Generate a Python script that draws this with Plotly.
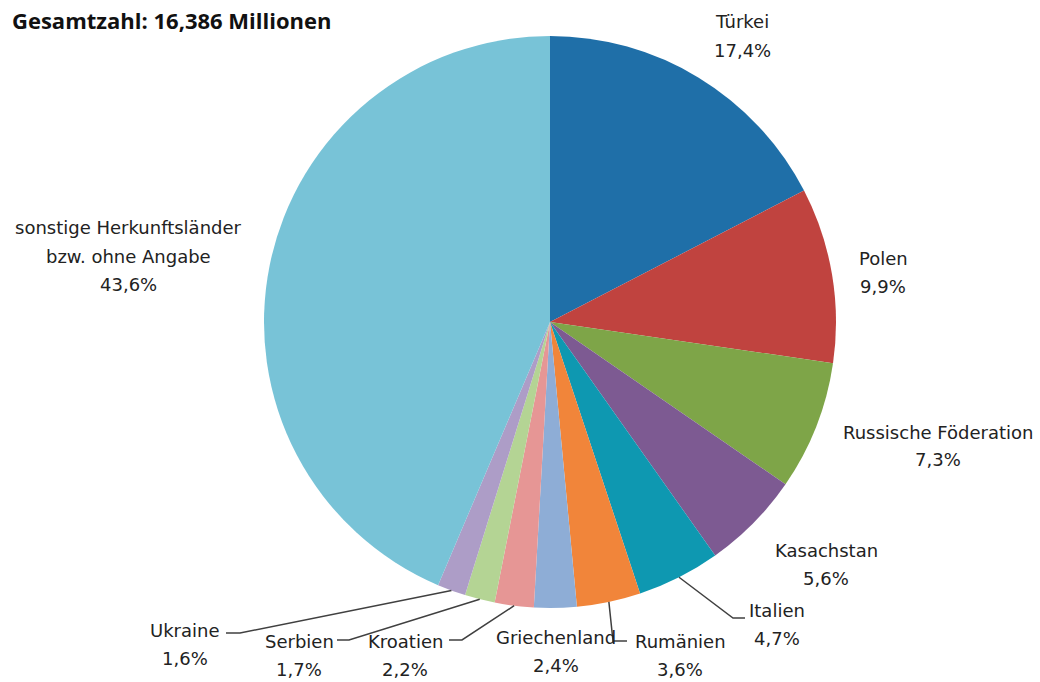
import math
import plotly.graph_objects as go

W, H = 1040, 682

# ---- data ----
countries = ["Türkei", "Polen", "Russische Föderation", "Kasachstan", "Italien",
             "Rumänien", "Griechenland", "Kroatien", "Serbien", "Ukraine",
             "sonstige Herkunftsländer bzw. ohne Angabe"]
shares = [17.4, 9.9, 7.3, 5.6, 4.7, 3.6, 2.4, 2.2, 1.7, 1.6, 43.6]
share_text = ["17,4%", "9,9%", "7,3%", "5,6%", "4,7%", "3,6%", "2,4%", "2,2%",
              "1,7%", "1,6%", "43,6%"]
label_lines = [["Türkei"], ["Polen"], ["Russische Föderation"], ["Kasachstan"],
               ["Italien"], ["Rumänien"], ["Griechenland"], ["Kroatien"],
               ["Serbien"], ["Ukraine"], ["sonstige Herkunftsländer", "bzw. ohne Angabe"]]
colors = ["#1F6FA8", "#C0433F", "#7EA548", "#7D5A92", "#0E98B1", "#F1853A",
          "#8EADD6", "#E69695", "#B4D494", "#AD9DC7", "#78C3D7"]
title_text = "Gesamtzahl: 16,386 Millionen"

# ---- layout geometry (pixels) ----
CX, CY, R = 550, 322, 286
# label anchor (center x, first-line center y)
label_pos = [(742, 22), (883, 258), (938, 432), (826, 550), (777, 610),
             (680, 641), (556, 637), (405, 641), (299, 641), (185, 630), (128, 228)]
LINE_GAP = 28
# leader elbows / ends (for small slices), index -> (elbow, end)
leaders = {4: ((733, 618), (745, 618)),
           5: ((613, 641), (627, 641)),
           7: ((462, 640), (449, 640)),
           8: ((349, 640), (337, 640)),
           9: ((240, 633), (226, 633))}


def px(x):
    return x / W


def py(y):
    return 1 - y / H


fig = go.Figure(go.Pie(
    labels=countries, values=shares, sort=False, direction="clockwise",
    rotation=0, marker=dict(colors=colors, line=dict(width=0)),
    textinfo="none", hoverinfo="label+percent", showlegend=False,
    domain=dict(x=[px(CX - R), px(CX + R)], y=[py(CY + R), py(CY - R)]),
))

annotations = []
font = dict(family="DejaVu Sans, sans-serif", size=18, color="#222222")
for i, (lx, ly) in enumerate(label_pos):
    lines = label_lines[i] + [share_text[i]]
    for k, t in enumerate(lines):
        annotations.append(dict(x=px(lx), y=py(ly + k * LINE_GAP), xref="paper", yref="paper",
                                text=t, showarrow=False, xanchor="center", yanchor="middle",
                                font=font))

annotations.append(dict(x=px(334), y=py(20), xref="paper", yref="paper", text="<b>" + title_text + "</b>",
                        showarrow=False, xanchor="right", yanchor="middle",
                        font=dict(family="Open Sans, sans-serif", size=22, color="#111111")))

shapes = []
total = sum(shares)
cum = 0.0
for i, v in enumerate(shares):
    mid = (cum + v / 2) / total * 2 * math.pi
    cum += v
    if i in leaders:
        sx = CX + R * math.sin(mid)
        sy = CY - R * math.cos(mid)
        (ex1, ey1), (ex2, ey2) = leaders[i]
        path = f"M {px(sx)},{py(sy)} L {px(ex1)},{py(ey1)} L {px(ex2)},{py(ey2)}"
        shapes.append(dict(type="path", xref="paper", yref="paper", path=path,
                           line=dict(color="#404040", width=1.5)))

fig.update_layout(width=W, height=H, margin=dict(l=0, r=0, t=0, b=0),
                  paper_bgcolor="white", plot_bgcolor="white",
                  annotations=annotations, shapes=shapes)
fig.write_html("out.html")
